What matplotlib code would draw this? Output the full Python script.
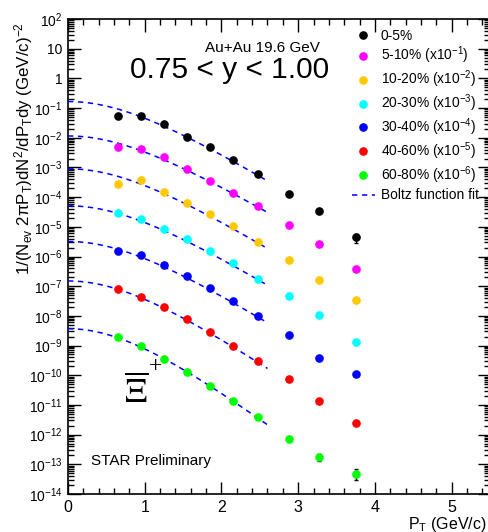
import numpy as np
import matplotlib.pyplot as plt
from matplotlib.lines import Line2D
from matplotlib.ticker import FixedLocator, FuncFormatter, LogLocator, MultipleLocator, NullFormatter

plt.rcParams['font.family'] = ['Liberation Sans', 'DejaVu Sans']
plt.rcParams['mathtext.fontset'] = 'custom'
plt.rcParams['mathtext.rm'] = 'Liberation Sans'
plt.rcParams['mathtext.it'] = 'Liberation Sans:italic'
plt.rcParams['mathtext.default'] = 'regular'

# pT bin centres (GeV/c)
pt = [0.65, 0.95, 1.25, 1.55, 1.85, 2.15, 2.475, 2.875, 3.275, 3.75]

# spectra as plotted (already multiplied by the scale factor in the legend)
y_0_5 = [5.5e-2, 5.4e-2, 2.9e-2, 1.1e-2, 4.8e-3, 1.8e-3, 5.9e-4, 1.26e-4, 3.5e-5, 4.4e-6]
y_5_10 = [5.0e-3, 4.1e-3, 2.2e-3, 8.9e-4, 3.5e-4, 1.4e-4, 5.0e-5, 1.15e-5, 2.6e-6, 3.8e-7]
y_10_20 = [2.7e-4, 3.7e-4, 1.44e-4, 6.2e-5, 2.6e-5, 1.07e-5, 3.1e-6, 7.8e-7, 1.67e-7, 3.4e-8]
y_20_30 = [3.0e-5, 1.8e-5, 8.7e-6, 3.8e-6, 1.5e-6, 6.0e-7, 1.8e-7, 4.5e-8, 1.03e-8, 1.3e-9]
y_30_40 = [1.5e-6, 1.1e-6, 5.2e-7, 2.2e-7, 8.5e-8, 3.1e-8, 1.0e-8, 2.3e-9, 3.8e-10, 1.1e-10]
y_40_60 = [8.0e-8, 4.4e-8, 2.0e-8, 8.1e-9, 2.9e-9, 1.0e-9, 3.0e-10, 7.2e-11, 1.4e-11, 2.4e-12]
y_60_80 = [1.9e-9, 9.7e-10, 3.6e-10, 1.3e-10, 4.5e-11, 1.35e-11, 4.0e-12, 6.9e-13, 1.75e-13, 4.9e-14]

# only the last few points have error bars larger than the marker
err_0_5 = [0, 0, 0, 0, 0, 0, 0, 0, 0, 1.5e-6]
err_60_80 = [0, 0, 0, 0, 0, 0, 0, 0, 5e-14, 2e-14]

labels = ['0-5%', '5-10% (x10$^{-1}$)', '10-20% (x10$^{-2}$)', '20-30% (x10$^{-3}$)',
          '30-40% (x10$^{-4}$)', '40-60% (x10$^{-5}$)', '60-80% (x10$^{-6}$)']
colors = ['black', '#ff00ff', '#ffc800', '#00ffff', '#0000ff', '#ff0000', '#00ff00']

# Boltzmann fit parameters: value at pT=0 and slope T (GeV)
fit_norm = [0.166, 0.0115, 9e-4, 5.1e-5, 3.2e-6, 1.5e-7, 3.7e-9]
fit_T = [0.259, 0.269, 0.258, 0.259, 0.253, 0.235, 0.214]
m_xi = 1.3217

series = [y_0_5, y_5_10, y_10_20, y_20_30, y_30_40, y_40_60, y_60_80]
errors = [err_0_5, None, None, None, None, None, err_60_80]

fig = plt.figure(figsize=(4.88, 5.32), dpi=100)
ax = fig.add_axes([68 / 488, 1 - 494 / 532, (490 - 68) / 488, (494 - 19) / 532])

# fit curves
pt_fit = np.linspace(0, 2.6, 200)
mt = np.sqrt(pt_fit ** 2 + m_xi ** 2)
for A, T in zip(fit_norm, fit_T):
    ax.plot(pt_fit, A * np.exp(-(mt - m_xi) / T), color='#0000ff', lw=1.1,
            dashes=(3.5, 3), zorder=3)

for ys, er, c in zip(series, errors, colors):
    if er is not None:
        ax.errorbar(pt, ys, yerr=er, fmt='none', ecolor='black', elinewidth=1.0,
                    capsize=1.5, zorder=2)
    ax.plot(pt, ys, 'o', color=c, ms=5.2, mec=c, zorder=4)

ax.set_yscale('log')
ax.set_xlim(0, 5.5)
ax.set_ylim(1e-14, 1e2)

ax.yaxis.set_major_locator(FixedLocator([10.0 ** k for k in range(-14, 3)]))
ax.yaxis.set_minor_locator(LogLocator(base=10, subs=np.arange(2, 10), numticks=30))
ax.yaxis.set_minor_formatter(NullFormatter())


def ylab(v, pos):
    k = int(round(np.log10(v)))
    if k == 0:
        return '1'
    if k == 1:
        return '10'
    return r'$10^{%d}$' % k


ax.yaxis.set_major_formatter(FuncFormatter(ylab))
ax.xaxis.set_major_locator(MultipleLocator(1))
ax.xaxis.set_minor_locator(MultipleLocator(0.2))
ax.tick_params(which='both', direction='in', top=True, right=True, width=1.0)
ax.tick_params(which='major', length=9)
ax.tick_params(which='minor', length=4.5)
ax.tick_params(axis='y', which='major', labelsize=10, pad=4)
ax.tick_params(axis='x', which='major', labelsize=11.5, pad=4)
for s in ax.spines.values():
    s.set_linewidth(1.2)

fig.text(24 / 488, 1 - 149 / 532, '1/(N$_{ev}$ 2πP$_{T}$)dN$^{2}$/dP$_{T}$dy (GeV/c)$^{-2}$',
         rotation=90, ha='center', va='center', fontsize=12.2)
fig.text(408 / 488, 1 - 524 / 532, 'P$_{T}$ (GeV/c)', ha='left', va='center', fontsize=11.5)

fig.text(205 / 488, 1 - 48 / 532, 'Au+Au 19.6 GeV', ha='left', va='center', fontsize=11)
fig.text(230 / 488, 1 - 70 / 532, '0.75 < y < 1.00', ha='center', va='center', fontsize=21.5)
fig.text(91 / 488, 1 - 461 / 532, 'STAR Preliminary', ha='left', va='center', fontsize=11)
fig.text(136 / 488, 1 - 392 / 532, r'$\overline{\mathrm{\Xi}}$', ha='center', va='center',
         fontsize=25, math_fontfamily='stix')
fig.text(155 / 488, 1 - 367 / 532, '+', ha='center', va='center', fontsize=17,
         family='Liberation Serif')

handles = [Line2D([], [], ls='none', marker='o', ms=5.2, color=c) for c in colors]
handles.append(Line2D([], [], color='#0000ff', lw=1.1, dashes=(3.5, 3)))
leg = fig.legend(handles, labels + ['Boltz function fit'], loc='upper left',
                 bbox_to_anchor=(346 / 488, 1 - 23 / 532), frameon=False, fontsize=9.9,
                 handlelength=1.7, handletextpad=0.44, labelspacing=0.17, borderaxespad=0)

fig.savefig('out.png', dpi=100)
